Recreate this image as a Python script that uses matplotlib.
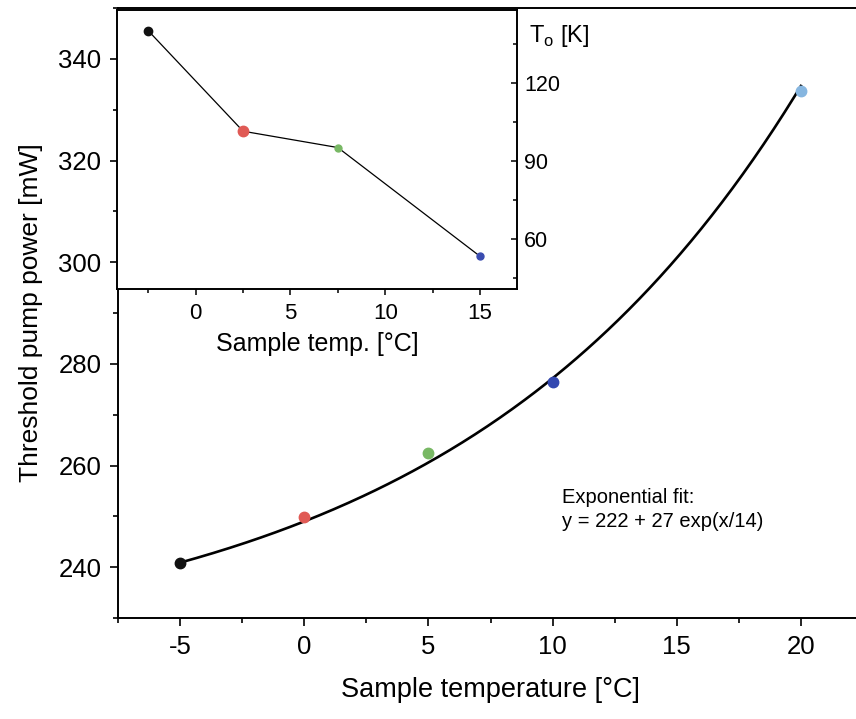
import numpy as np
import matplotlib
matplotlib.use("Agg")
import matplotlib.pyplot as plt
from matplotlib.ticker import MultipleLocator

plt.rcParams['font.family'] = ['Liberation Sans', 'DejaVu Sans']
plt.rcParams['mathtext.fontset'] = 'custom'
plt.rcParams['mathtext.rm'] = 'Liberation Sans'
plt.rcParams['axes.unicode_minus'] = False

# main data: threshold pump power vs sample temperature
temp = [-5, 0, 5, 10, 20]
power = [240.9, 249.9, 262.4, 276.4, 333.7]
main_colors = ['#111111', '#e05a55', '#78b864', '#3348b0', '#86b6e0']

# exponential fit stated on the chart: y = A + B exp(x/tau)
fit_A, fit_B, fit_tau = 222, 27, 14

# inset: characteristic temperature T0
inset_temp = [-2.5, 2.5, 7.5, 15]
t0 = [140.2, 101.5, 95.2, 53.3]
inset_colors = ['#111111', '#e05a55', '#78b864', '#3a4cb0']
inset_sizes = [6, 7.5, 5, 5]

W, H = 856, 719
fig = plt.figure(figsize=(W / 100, H / 100), dpi=100)

ax = fig.add_axes([118 / W, 1 - 618 / H, (863 - 118) / W, 610 / H])
xf = np.linspace(temp[0], temp[-1], 300)
ax.plot(xf, fit_A + fit_B * np.exp(xf / fit_tau), color='black', lw=1.9, zorder=2)
for x, y, c in zip(temp, power, main_colors):
    ax.plot(x, y, 'o', color=c, ms=7.5, mec=c, zorder=3)
ax.set_xlim(-7.5, 22.5)
ax.set_ylim(230, 350)
ax.xaxis.set_major_locator(MultipleLocator(5))
ax.xaxis.set_minor_locator(MultipleLocator(2.5))
ax.yaxis.set_major_locator(MultipleLocator(20))
ax.yaxis.set_minor_locator(MultipleLocator(10))
ax.tick_params(which='both', direction='out', width=1.2, top=False, right=False)
ax.tick_params(which='major', length=6, labelsize=18.5, pad=6)
ax.tick_params(which='minor', length=3.5)
for s in ax.spines.values():
    s.set_linewidth(1.4)
ax.set_xlabel('Sample temperature [°C]', fontsize=19.5, labelpad=13)
ax.set_ylabel('Threshold pump power [mW]', fontsize=19, labelpad=11)
ax.text(10.38, 253.8, 'Exponential fit:', fontsize=14.5, ha='left', va='center')
ax.text(10.38, 248.9, 'y = 222 + 27 exp(x/14)', fontsize=14.5, ha='left', va='center')

# inset
ax_in = fig.add_axes([117 / W, 1 - 289 / H, 400 / W, 279 / H])
ax_in.set_facecolor('white')
ax_in.plot(inset_temp, t0, color='black', lw=0.9, zorder=2)
for x, y, c, m in zip(inset_temp, t0, inset_colors, inset_sizes):
    ax_in.plot(x, y, 'o', color=c, ms=m, mec=c, zorder=3)
ax_in.set_xlim(-4.15, 16.95)
ax_in.set_ylim(40.7, 148.2)
ax_in.xaxis.set_major_locator(MultipleLocator(5))
ax_in.xaxis.set_minor_locator(MultipleLocator(2.5))
ax_in.yaxis.set_major_locator(MultipleLocator(30))
ax_in.yaxis.set_minor_locator(MultipleLocator(15))
ax_in.yaxis.tick_right()
ax_in.tick_params(axis='x', which='both', direction='out', width=1.1, labelsize=16, pad=6)
ax_in.tick_params(axis='x', which='major', length=4)
ax_in.tick_params(axis='x', which='minor', length=3)
ax_in.tick_params(axis='y', which='both', direction='in', width=1.1, labelsize=15.5, pad=5,
                  left=False, right=True)
ax_in.tick_params(axis='y', which='major', length=4)
ax_in.tick_params(axis='y', which='minor', length=3)
for s in ax_in.spines.values():
    s.set_linewidth(1.4)
ax_in.set_xlabel('Sample temp. [°C]', fontsize=18, labelpad=6)
ax_in.text(1.03, 0.907, r'T$_\mathrm{o}$ [K]', transform=ax_in.transAxes,
           fontsize=17, ha='left', va='center')

fig.savefig('out.png', dpi=100)
